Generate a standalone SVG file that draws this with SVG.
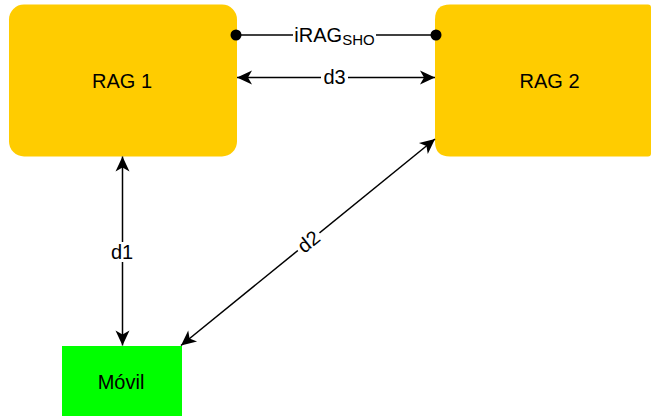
<svg xmlns="http://www.w3.org/2000/svg" width="652" height="416" viewBox="0 0 652 416">
<style>
.lbl{font-family:"Liberation Sans",Arial,sans-serif;font-size:20px;fill:#000}
.ln{stroke:#000;stroke-width:1.5;fill:none}
.bg{fill:#fff}
</style>
<defs>
<marker id="arr" viewBox="-16 -8 17 16" refX="0" refY="0" markerWidth="17" markerHeight="16" markerUnits="userSpaceOnUse" orient="auto-start-reverse">
<path d="M0,0 L-15,-7 L-11,0 L-15,7 Z" fill="#000"/>
</marker>
</defs>
<rect width="652" height="416" fill="#fff"/>
<g id="rag1">
<rect x="9" y="4.5" width="228" height="152" rx="15" ry="15" fill="#FFCC00"/>
<text class="lbl" x="122" y="87.5" text-anchor="middle">RAG 1</text>
</g>
<g id="rag2">
<path d="M450,4.5 H648 Q651,4.5 651,7.5 V153.5 Q651,156.5 648,156.5 H450 Q435,156.5 435,141.5 V19.5 Q435,4.5 450,4.5 Z" fill="#FFCC00"/>
<text class="lbl" x="549.5" y="87.5" text-anchor="middle">RAG 2</text>
</g>
<g id="movil">
<rect x="62" y="346" width="120" height="72" fill="#00FF00"/>
<text class="lbl" x="121" y="388.5" text-anchor="middle">Móvil</text>
</g>
<g id="connectors">
<line class="ln" x1="236" y1="35" x2="436" y2="35"/>
<circle cx="236" cy="35" r="5.5" fill="#000"/>
<circle cx="436" cy="35" r="5.5" fill="#000"/>
<rect class="bg" x="293" y="24" width="83" height="22"/>
<text class="lbl" x="334.5" y="41.7" text-anchor="middle">iRAG<tspan font-size="15px" dy="2.8">SHO</tspan></text>

<line class="ln" x1="237" y1="77.5" x2="435" y2="77.5" marker-start="url(#arr)" marker-end="url(#arr)"/>
<rect class="bg" x="321" y="68" width="27" height="20"/>
<text class="lbl" x="334.5" y="84.3" text-anchor="middle">d3</text>

<line class="ln" x1="122.5" y1="156.5" x2="122.5" y2="345.5" marker-start="url(#arr)" marker-end="url(#arr)"/>
<rect class="bg" x="109" y="242" width="27" height="20"/>
<text class="lbl" x="122" y="259" text-anchor="middle">d1</text>

<line class="ln" x1="181" y1="345.5" x2="435" y2="139" marker-start="url(#arr)" marker-end="url(#arr)"/>
<g transform="translate(308.5,241.5) rotate(-39.1)">
<rect class="bg" x="-14" y="-10" width="28" height="20"/>
<text class="lbl" x="0" y="7" text-anchor="middle">d2</text>
</g>
</g>
</svg>
